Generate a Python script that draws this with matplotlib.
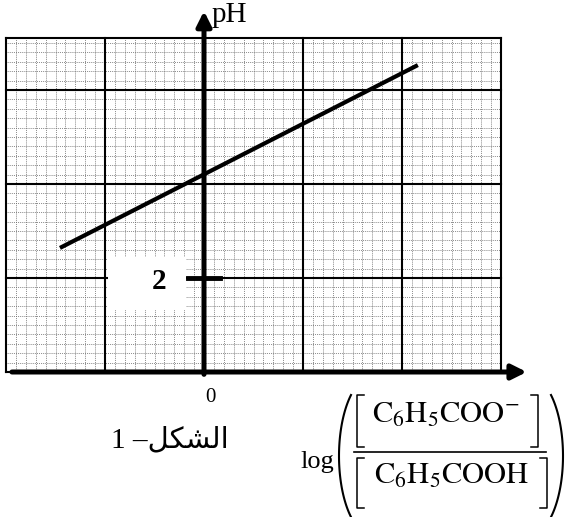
import numpy as np
import matplotlib
matplotlib.use("Agg")
import matplotlib.pyplot as plt
from matplotlib.patches import Rectangle

plt.rcParams['mathtext.fontset'] = 'stix'
plt.rcParams['font.family'] = ['Liberation Serif', 'DejaVu Sans']

# ---- data ----
log_ratio = [-1.455, 2.16]       # log([C6H5COO-]/[C6H5COOH])
ph_values = [2.64, 6.53]         # pH
x_grid_range = [-2, 3]
y_grid_range = [0, 7.1]
x_major_step = 1.0
y_major_step = 2.0
x_minor_step = 0.1
y_minor_step = 0.2
y_tick_value = 2
y_tick_label = "2"
origin_label = "0"
y_label = "pH"
caption = "1 \u2013\uFEDE\uFEDC\uFEB8\uFEDF\uFE8D"   # الشكل- 1 (visual order, shaped)
x_label_log = "log"
x_label_num = r'$\mathrm{C_6H_5COO^{-}}$'
x_label_den = r'$\mathrm{C_6H_5COOH}$'

fig = plt.figure(figsize=(5.67, 5.17), dpi=100)
ax = fig.add_axes([0, 0, 1, 1])
X0PX, Y0PX, SX, SY = 204, 372, 99.0, 47.0
ax.set_xlim(-X0PX / SX, (567 - X0PX) / SX)
ax.set_ylim((Y0PX - 517) / SY, Y0PX / SY)
ax.axis('off')


def P(xp, yp):
    """page position (pixels from top-left) -> data coords, for annotation layout"""
    return (xp - X0PX) / SX, (Y0PX - yp) / SY


x0, x1 = x_grid_range
y0, y1 = y_grid_range

# minor grid
for xv in np.arange(x0, x1 + 1e-9, x_minor_step):
    ax.plot([xv, xv], [y0, y1], color='#666666', lw=0.6, ls=(0, (1, 1.3)), zorder=1)
for yv in np.arange(y0, y1 + 1e-9, y_minor_step):
    ax.plot([x0, x1], [yv, yv], color='#666666', lw=0.6, ls=(0, (1, 1.3)), zorder=1)

# major grid
for xv in np.arange(x0, x1 + 1e-9, x_major_step):
    ax.plot([xv, xv], [y0, y1], color='black', lw=1.5, zorder=2)
for yv in np.arange(y0, y1 + 1e-9, y_major_step):
    ax.plot([x0, x1], [yv, yv], color='black', lw=1.5, zorder=2)
ax.plot([x0, x1], [y1, y1], color='black', lw=1.5, zorder=2)

# white box around tick label
ax.add_patch(Rectangle((-0.97, 1.32), 0.79, 1.13, facecolor='white', edgecolor='none', zorder=3))

# data line
ax.plot(log_ratio, ph_values, color='black', lw=3.0, solid_capstyle='butt', zorder=5)

# axes with arrows
ax.annotate('', xy=(0, 7.68), xytext=(0, -0.05),
            arrowprops=dict(arrowstyle='-|>', lw=3.6, color='black', mutation_scale=22,
                            shrinkA=0, shrinkB=0), zorder=6)
ax.annotate('', xy=(3.26, 0), xytext=(x0 + 0.06, 0),
            arrowprops=dict(arrowstyle='-|>', lw=3.6, color='black', mutation_scale=22,
                            shrinkA=0, shrinkB=0), zorder=6)

# tick at pH 2
ax.plot([-0.16, 0.16], [y_tick_value, y_tick_value], color='black', lw=3.5, zorder=6)
ax.text(-0.45, y_tick_value - 0.08, y_tick_label, fontsize=21, fontweight='bold',
        ha='center', va='center', zorder=7)

ax.text(0.08, 7.6, y_label, fontsize=21, ha='left', va='center')
ax.text(0.06, -0.55, origin_label, fontsize=15, ha='center', va='center')
ax.text(-0.34, -1.46, caption, fontsize=21, ha='center', va='center')

# ---- x-axis label: log( [num] / [den] ) ----
ax.text(*P(300, 468), x_label_log, fontsize=19, ha='left', va='baseline')

# parentheses drawn as elliptical arcs
th = np.deg2rad(50)
half_h = 61
b = half_h / np.sin(th)
a = 12 / (1 - np.cos(th))
t = np.linspace(np.pi - th, np.pi + th, 60)
cx = 339 + a
xs, ys = P(cx + a * np.cos(t), 456 - b * np.sin(t))
ax.plot(xs, ys, color='black', lw=1.5)
t = np.linspace(-th, th, 60)
cx = 563 - a
xs, ys = P(cx + a * np.cos(t), 456 - b * np.sin(t))
ax.plot(xs, ys, color='black', lw=1.5)


def bracket(xl, xr, yt, yb, hook=7):
    ys = [yt, yt, yb, yb]
    xs = [xl + hook, xl, xl, xl + hook]
    ax.plot(*zip(*[P(u, v) for u, v in zip(xs, ys)]), color='black', lw=1.1)
    xs = [xr - hook, xr, xr, xr - hook]
    ax.plot(*zip(*[P(u, v) for u, v in zip(xs, ys)]), color='black', lw=1.1)


bracket(357, 538, 395, 447)
bracket(357, 547, 458, 508)
ax.plot(*zip(P(354, 452), P(546, 452)), color='black', lw=1.2)
ax.text(*P(446, 423), x_label_num, fontsize=22, ha='center', va='baseline')
ax.text(*P(452, 484), x_label_den, fontsize=22, ha='center', va='baseline')

fig.savefig('out.png', dpi=100)
